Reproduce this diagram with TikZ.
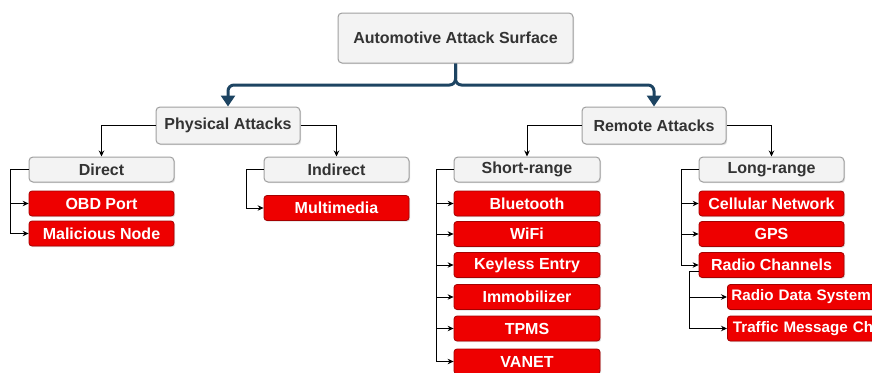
\documentclass[tikz,border=0pt]{standalone}
\usepackage{fontspec}
\setmainfont{Liberation Sans}
\usetikzlibrary{arrows.meta,shadows}
\definecolor{boxgray}{RGB}{243,243,243}
\definecolor{boxline}{RGB}{160,160,160}
\definecolor{txtgray}{RGB}{51,51,51}
\definecolor{redfill}{RGB}{238,0,0}
\definecolor{redline}{RGB}{165,0,0}
\definecolor{navy}{RGB}{29,68,98}
\tikzset{
  base/.style={inner sep=0pt, font=\fontsize{16}{18}\selectfont\bfseries,
    drop shadow={opacity=0.25, shadow xshift=1.2pt, shadow yshift=-1.2pt}},
  gbox/.style={base, draw=boxline, fill=boxgray, text=txtgray, line width=1pt,
    rounded corners=4pt},
  rbox/.style={base, draw=redline, fill=redfill, text=white, line width=0.8pt,
    rounded corners=3pt, minimum width=145pt, minimum height=25pt},
  widebox/.style={rbox, anchor=west, minimum width=0pt, text width=192pt,
    align=left, font=\fontsize{15.2}{18}\selectfont\bfseries},
  conn/.style={draw=black, line width=0.9pt, -{Stealth[length=6pt,width=5.5pt]}},
  bigconn/.style={draw=navy, line width=3pt, rounded corners=6pt,
    -{Triangle[length=11pt,width=14pt]}},
}
\begin{document}
\begin{tikzpicture}[x=1pt,y=-1pt]
\clip (0,0) rectangle (872,372);
\fill[white] (0,0) rectangle (872,372);

% level 0
\node[gbox, minimum width=235pt, minimum height=50pt] (top) at (455.5,38) {Automotive Attack Surface};
% level 1
\node[gbox, minimum width=144pt, minimum height=37pt] (phys) at (228,125.5) {Physical Attacks};
\node[gbox, minimum width=144pt, minimum height=37pt] (rem) at (654,125.5) {Remote Attacks};
% level 2
\node[gbox, minimum width=145pt, minimum height=25pt] (direct) at (101.5,169.5) {Direct};
\node[gbox, minimum width=145pt, minimum height=25pt] (indirect) at (336.5,169.5) {Indirect};
\node[gbox, minimum width=146pt, minimum height=25pt] (short) at (527,169.5) {Short-range};
\node[gbox, minimum width=145pt, minimum height=25pt] (long) at (771.5,169.5) {Long-range};
% leaves
\node[rbox] (obd) at (101.5,203.5) {OBD Port};
\node[rbox] (mal) at (101.5,233.5) {Malicious Node};
\node[rbox] (multi) at (336.5,208) {Multimedia};
\node[rbox, minimum width=146pt] (blue) at (527,203.5) {Bluetooth};
\node[rbox, minimum width=146pt] (wifi) at (527,234) {WiFi};
\node[rbox, minimum width=146pt] (keyless) at (527,265) {Keyless Entry};
\node[rbox, minimum width=146pt] (immo) at (527,297) {Immobilizer};
\node[rbox, minimum width=146pt] (tpms) at (527,328.5) {TPMS};
\node[rbox, minimum width=146pt] (vanet) at (527,361.5) {VANET};
\node[rbox] (cell) at (771.5,203.5) {Cellular Network};
\node[rbox] (gps) at (771.5,234) {GPS};
\node[rbox] (radc) at (771.5,265) {Radio Channels};
\node[widebox, inner xsep=4pt] (rds) at (727,297) {Radio Data System};
\node[widebox, inner xsep=5.5pt] (tmc) at (727,328.5) {Traffic Message Ch};

% main connectors
\draw[bigconn] (top.south) -- (top.south |- 0,85) -| (phys.north);
\draw[bigconn] (top.south) -- (top.south |- 0,85) -| (rem.north);

% level 1 -> level 2
\draw[conn] (phys.west) -| (direct.north);
\draw[conn] (phys.east) -| (indirect.north);
\draw[conn] (rem.west) -| (short.north);
\draw[conn] (rem.east) -| (long.north);

% Direct
\draw[conn] (direct.west) -- ++(-18,0) |- (mal.west);
\draw[conn] (direct.west) ++(-18,0) |- (obd.west);
% Indirect
\draw[conn] (indirect.west) -- ++(-17,0) |- (multi.west);
% Short-range
\draw[conn] (short.west) -- ++(-17,0) |- (vanet.west);
\foreach \n in {blue,wifi,keyless,immo,tpms}
  \draw[conn] (short.west) ++(-17,0) |- (\n.west);
% Long-range
\draw[conn] (long.west) -- ++(-17,0) |- (radc.west);
\draw[conn] (long.west) ++(-17,0) |- (cell.west);
\draw[conn] (long.west) ++(-17,0) |- (gps.west);
% Radio channels
\draw[conn] ([yshift=6pt]radc.south west) -- ++(-9,0) |- (tmc.west);
\draw[conn] ([yshift=6pt]radc.south west) ++(-9,0) |- (rds.west);
\end{tikzpicture}
\end{document}
